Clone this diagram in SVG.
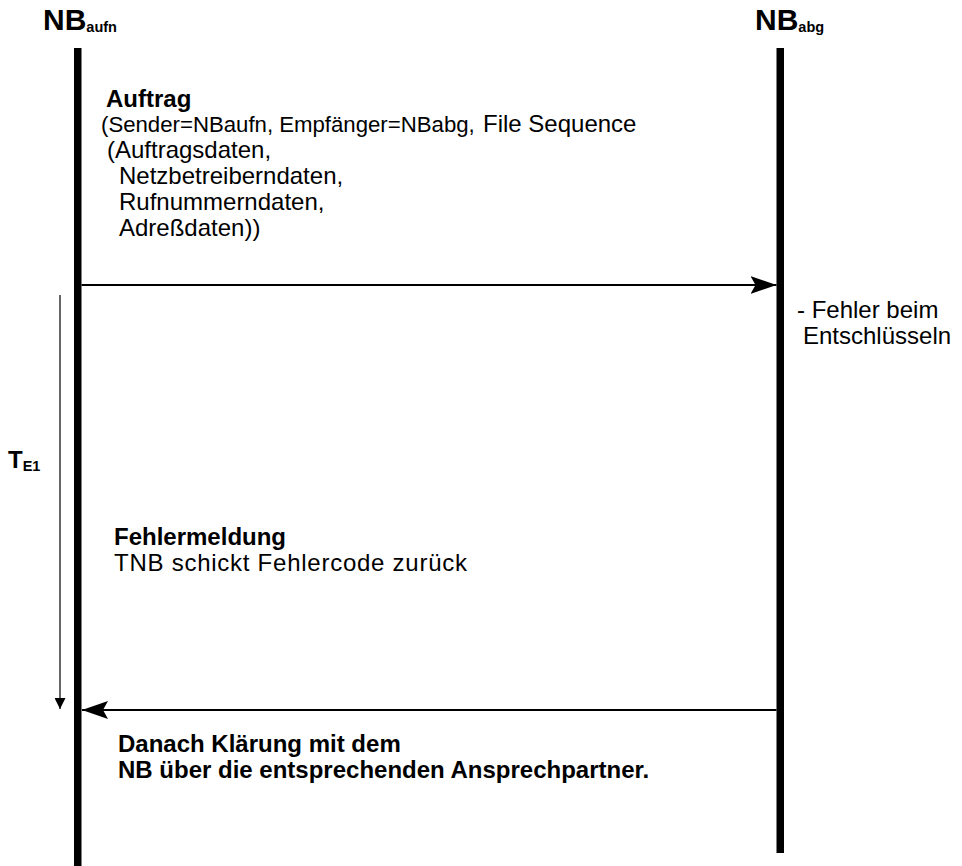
<svg xmlns="http://www.w3.org/2000/svg" width="962" height="866" viewBox="0 0 962 866">
<style>
text{font-family:"Liberation Sans",Arial,sans-serif;fill:#000}
.h{font-size:30px;font-weight:bold}
.hs{font-size:14.5px;font-weight:bold}
.b{font-size:24px;font-weight:bold}
.t{font-size:24px}
.ts{font-size:22.2px}
.life{fill:#000}
.msg{stroke:#000;stroke-width:2;fill:none}
.tim{stroke:#000;stroke-width:1.2;fill:none}
</style>
<defs>
<marker id="ah" markerUnits="userSpaceOnUse" markerWidth="26" markerHeight="18" refX="26" refY="9" orient="auto">
<path d="M0,0 L26,9 L0,18 L5,9 z" fill="#000"/>
</marker>
<marker id="ahs" markerUnits="userSpaceOnUse" markerWidth="11" markerHeight="11" refX="11" refY="5.5" orient="auto">
<path d="M0,0 L11,5.5 L0,11 z" fill="#000"/>
</marker>
</defs>
<rect width="962" height="866" fill="#fff"/>
<g id="nb-aufn">
<text x="43" y="30" class="h">NB<tspan class="hs" dy="2">aufn</tspan></text>
<rect class="life" x="74" y="48" width="7.5" height="818"/>
</g>
<g id="nb-abg">
<text x="755" y="30" class="h">NB<tspan class="hs" dy="2">abg</tspan></text>
<rect class="life" x="776.5" y="48" width="7.5" height="805"/>
</g>
<g id="connectors">
<line class="msg" x1="81.5" y1="285" x2="776.5" y2="285" marker-end="url(#ah)"/>
<line class="msg" x1="776.5" y1="710" x2="82" y2="710" marker-end="url(#ah)"/>
<line class="tim" x1="60" y1="295" x2="60" y2="709" marker-end="url(#ahs)"/>
</g>
<g id="auftrag">
<text x="106" y="107" class="b">Auftrag</text>
<text x="101" y="132" class="ts">(Sender=NBaufn, Empfänger=NBabg,<tspan class="t" x="483">File Sequence</tspan></text>
<text x="107" y="158" class="t">(Auftragsdaten,</text>
<text x="119" y="184" class="t">Netzbetreiberndaten,</text>
<text x="119" y="210" class="t">Rufnummerndaten,</text>
<text x="119" y="236" class="t">Adreßdaten))</text>
</g>
<g id="fehler-abg">
<text x="797" y="318" class="t">- Fehler beim</text>
<text x="803" y="344" class="t">Entschlüsseln</text>
</g>
<g id="timer">
<text x="8" y="468" class="b">T<tspan class="hs" font-size="15" dy="3">E1</tspan></text>
</g>
<g id="fehlermeldung">
<text x="114" y="545" class="b">Fehlermeldung</text>
<text x="114" y="571" class="t" textLength="353" lengthAdjust="spacing">TNB schickt Fehlercode zurück</text>
</g>
<g id="klaerung">
<text x="118" y="752" class="b">Danach Klärung mit dem</text>
<text x="118" y="778" class="b">NB über die entsprechenden Ansprechpartner.</text>
</g>
</svg>
